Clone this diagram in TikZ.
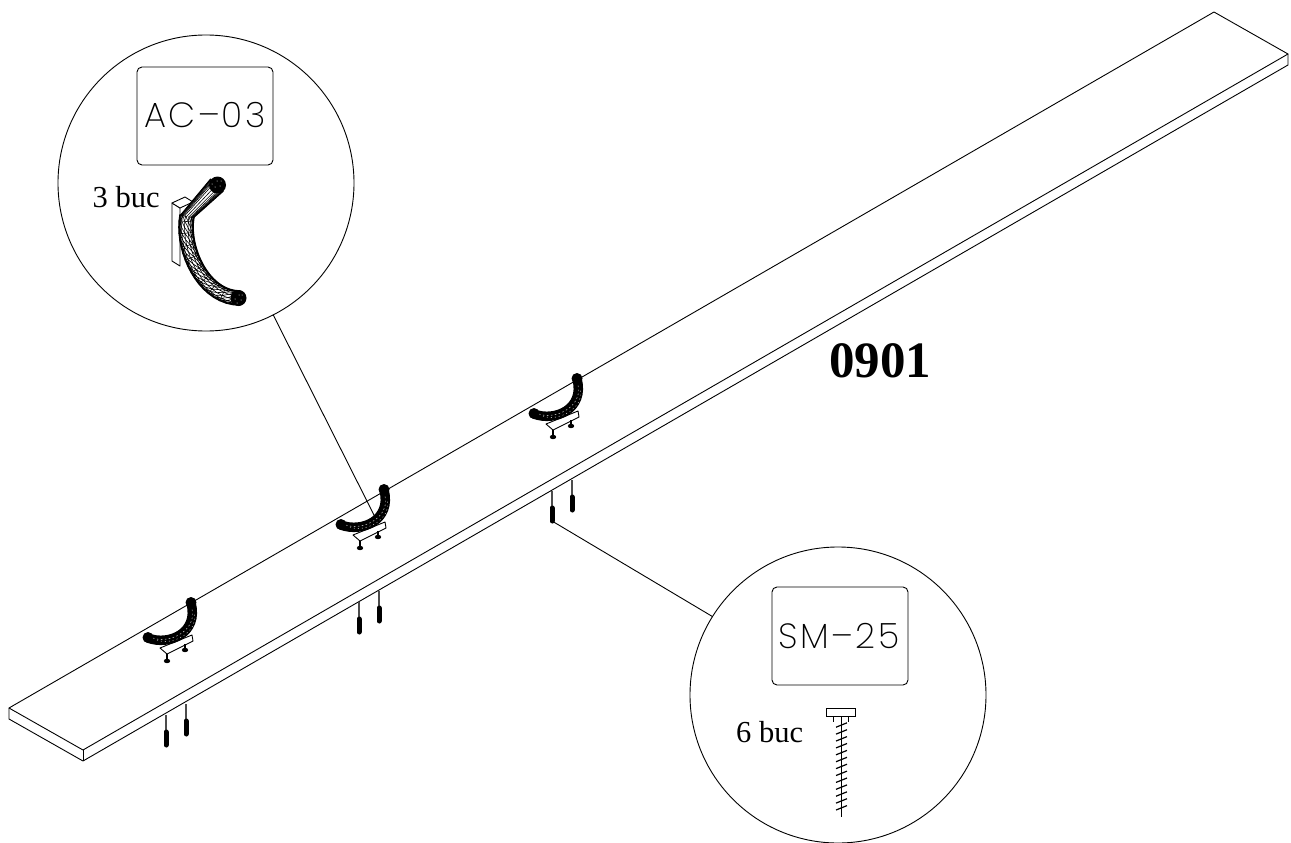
\documentclass[tikz,border=0pt]{standalone}
\usepackage{fontspec}
\setmainfont{Liberation Serif}
\newfontfamily\cadfont[LetterSpace=7]{Poppins ExtraLight}
\makeatletter
\newcommand{\tubept}[3]{% t, s, name
  \pgfmathsetmacro\tt@{#1}\pgfmathsetmacro\uu@{1-\tt@}%
  \pgfmathsetmacro\xx@{\uu@*\uu@*\uu@*187+3*\uu@*\uu@*\tt@*181+3*\uu@*\tt@*\tt@*203+\tt@*\tt@*\tt@*240}%
  \pgfmathsetmacro\yy@{\uu@*\uu@*\uu@*216+3*\uu@*\uu@*\tt@*248+3*\uu@*\tt@*\tt@*298+\tt@*\tt@*\tt@*298}%
  \pgfmathsetmacro\dx@{3*\uu@*\uu@*(-6)+6*\uu@*\tt@*22+3*\tt@*\tt@*37}%
  \pgfmathsetmacro\dy@{3*\uu@*\uu@*32+6*\uu@*\tt@*50}%
  \pgfmathsetmacro\nn@{sqrt(\dx@*\dx@+\dy@*\dy@)}%
  \coordinate (#3) at ({\xx@+(#2)*\dy@/\nn@},{\yy@-(#2)*\dx@/\nn@});%
}
\makeatother
\tikzset{
  x=1pt,y=-1pt,
  line/.style={black,line width=0.9pt},
  thinl/.style={black,line width=0.6pt},
  bubble/.style={circle,draw=black,line width=0.9pt,minimum size=296pt,inner sep=0pt,outer sep=0pt},
  label box/.style={draw=black,line width=0.9pt,rounded corners=5pt},
  serif text/.style={anchor=base west,inner sep=0pt,font=\fontsize{30.5}{36}\selectfont},
  cad text/.style={anchor=base,inner sep=0pt,font=\cadfont\fontsize{35}{40}\selectfont},
}
\begin{document}
\begin{tikzpicture}
\useasboundingbox (0,0) rectangle (1291,843);
% board
\coordinate (bT) at (1214,12);
\coordinate (bR) at (1288,54);
\coordinate (bRl) at (1288,65);
\coordinate (bL) at (9,708);
\coordinate (bLl) at (9,719);
\coordinate (bF) at (83,750);
\coordinate (bFl) at (83,761);
\draw[line,line join=round] (bL) -- (bT) -- (bR) -- (bF) -- cycle;
\draw[line,line join=round] (bL) -- (bLl) -- (bFl) -- (bRl) -- (bR);
\draw[line] (bF) -- (bFl);
% bubbles
\node[bubble] (c1) at (206,183) {};
\node[bubble] (c2) at (838,695) {};
\draw[label box] (137,67) rectangle (273,165);
\draw[label box] (772,587) rectangle (908,685);
\node[cad text] (t1) at (205,127) {AC–03};
\node[cad text] (t2) at (839,648) {SM–25};
\node[serif text] (q1) at (92.5,207) {3 buc};
\node[serif text] (q2) at (736,742) {6 buc};
\node[anchor=base west,inner sep=0pt,font=\fontsize{51}{60}\selectfont\bfseries] (code) at (829,377) {0901};
% leaders
\coordinate (h2) at (375,517);
\coordinate (s3) at (552,521);
\draw[line] (c1.-63) -- (h2);
\draw[line] (c2.148) -- (s3);
% small hooks and screws
\foreach \dx/\dy in {-193/113,0/0,193/-111}{
\begin{scope}[shift={(\dx,\dy)}]
  \draw[line,line width=0.9pt,line join=round] (353,535) -- (360,541) -- (386,528) -- (385,522) -- cycle;
  \draw[line,line width=1.5pt] (360,541) -- (360,547);
  \draw[line,line width=1.5pt] (378,531) -- (378,536);
  \fill (360,548) ellipse (3.2 and 2.2);
  \fill (378,537) ellipse (3.2 and 2.2);
  \draw[black,line width=9.5pt,line cap=round] (341,525) .. controls (362,533) and (392,520) .. (384,490);
  \draw[white,line width=0.4pt,dash pattern=on 1.5pt off 2.5pt] (346,525) .. controls (362,531) and (390,518) .. (385,496);
  \draw[white,line width=0.4pt,dash pattern=on 1pt off 3pt] (350,527) .. controls (364,533) and (392,520) .. (387,500);
  \fill (341,524.5) circle (5.5);
  \fill (384,489.5) circle (5.5);
  \draw[black!70,line width=1.3pt] (359,602) -- (359,617);
  \draw[black!70,line width=1.3pt] (379,591) -- (379,606);
  \draw[black,line width=5pt,line cap=round] (359,619) -- (359,632);
  \draw[black,line width=5pt,line cap=round] (379,608) -- (379,621);
\end{scope}
}
% large hook
\draw[line,fill=white,line join=round] (172,203) -- (180,208) -- (180,266) -- (172,261) -- cycle;
\draw[line,fill=white,line join=round] (172,203) -- (185,197) -- (193,202) -- (180,208) -- cycle;
\fill[white] (180,216) -- (193,218) -- (223,191) -- (211,179) -- cycle;
\foreach \s in {-1,-.96,-.9,-.82,-.72,-.6,-.4,-.05,.3,.55,.7,.8,.88,.95,1}{
  \draw[black,line width=0.6pt] ({217+\s*6.2},{185+\s*6}) -- ({186.5+\s*6.5},{217+\s*1});
}
\draw[line,line width=1.3pt] (210.8,179) -- (180,216);
\draw[line,line width=1.3pt] (223.2,191) -- (193,218);
\foreach \i in {0,...,17}{
  \pgfmathsetmacro\ta{\i/18}
  \pgfmathsetmacro\tb{(\i+1)/18}
  \foreach \sa/\sb in {-7/-6,-6/-4.5,-4.5/-1.5,-1.5/2,2/4.5,4.5/6,6/7,7/7}{
    \tubept{\ta}{\sa}{pa}\tubept{\tb}{\sa}{pb}\tubept{\tb}{\sb}{pc}
    \draw[thinl] (pa) -- (pb) (pa) -- (pc);
  }
  \ifodd\i
  \tubept{\ta}{-7}{pa}\tubept{\ta}{7}{pb}
  \draw[thinl] (pa) -- (pb);
  \fi
  \tubept{\ta}{-7}{pa}\tubept{\tb}{-7}{pb}
  \draw[line,line width=1.6pt,line cap=round] (pa) -- (pb);
  \tubept{\ta}{7}{pa}\tubept{\tb}{7}{pb}
  \draw[line,line width=1.6pt,line cap=round] (pa) -- (pb);
}
\fill (217.5,185) circle (8.5);
\fill (238.5,298) circle (8);
\foreach \ox/\oy in {217/181,220/186,215/187,221/181,212/184,239/295,235/299,241/300,237/303,242/295}{
  \fill[white] (\ox,\oy) circle (0.5);
}
% large screw
\draw[line,fill=white] (826,708) rectangle (855,716);
\draw[line] (833,716) -- (833,722) (848,716) -- (848,722);
\draw[black,line width=1pt] (841,716) -- (841,817);
\foreach \n in {0,...,12}{
  \draw[black,line width=1.2pt] (836,{725+\n*6.9+2.2}) -- (847,{725+\n*6.9-2.2});
}
\end{tikzpicture}
\end{document}
